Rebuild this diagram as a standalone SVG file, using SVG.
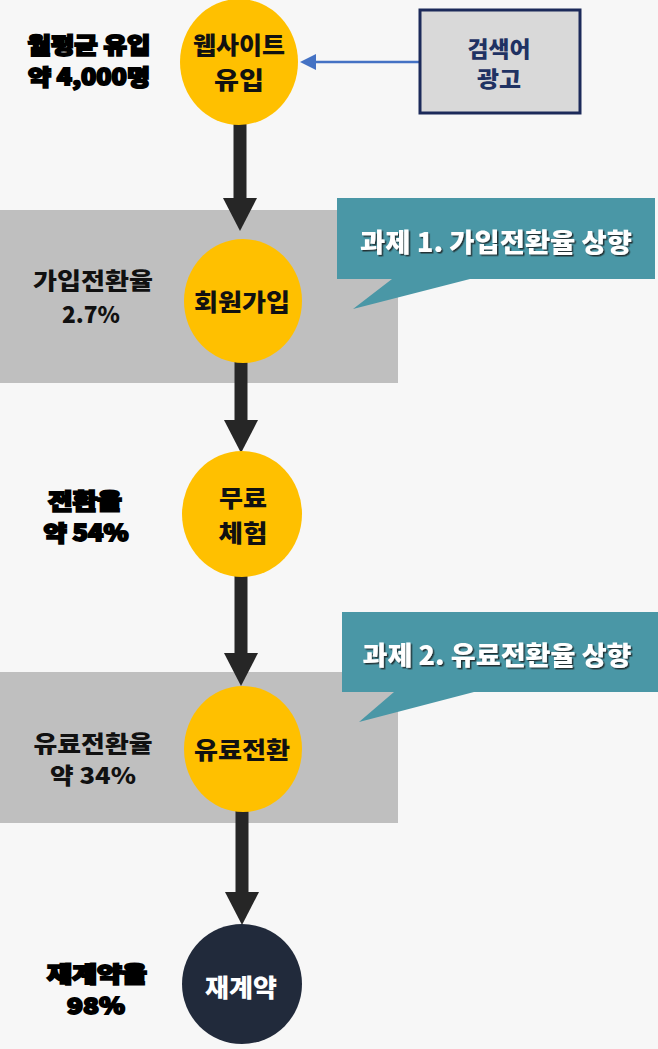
<svg xmlns="http://www.w3.org/2000/svg" width="658" height="1049" viewBox="0 0 658 1049">
<style>
text{font-family:"Noto Sans CJK KR","Noto Sans",sans-serif;font-weight:900;text-anchor:middle}
.node{fill:#ffc000}
.nt{font-size:24px;fill:#111}
.lab{font-size:23px;fill:#111}
.heavy{font-size:22px;fill:#000;stroke:#000;stroke-width:1.8px}
.band{fill:#bfbfbf}
.callout{fill:#4a97a6}
.ct{font-size:26px;fill:#fff}
.shaft{stroke:#262626;stroke-width:13;fill:none}
</style>
<defs>
<marker id="headBlack" markerUnits="userSpaceOnUse" viewBox="0 -17 33 34" markerWidth="33" markerHeight="34" refX="0" refY="0" orient="auto">
<path d="M0,-17 L33,0 L0,17 Z" fill="#262626"/>
</marker>
<marker id="headBlue" markerUnits="userSpaceOnUse" viewBox="0 -8 16 16" markerWidth="16" markerHeight="16" refX="0" refY="0" orient="auto">
<path d="M0,-8 L16,0 L0,8 Z" fill="#4472c4"/>
</marker>
<filter id="shadow" x="-10%" y="-30%" width="120%" height="160%">
<feDropShadow dx="1.5" dy="1.5" stdDeviation="0.6" flood-color="#1a1a1a" flood-opacity="0.8"/>
</filter>
</defs>
<rect width="658" height="1049" fill="#f7f7f7"/>
<g id="band1"><rect class="band" x="0" y="210" width="398" height="173"/></g>
<g id="band2"><rect class="band" x="0" y="672" width="398" height="151"/></g>
<g id="connectors">
<line class="shaft" x1="240" y1="120" x2="240" y2="198" marker-end="url(#headBlack)"/>
<line class="shaft" x1="241" y1="358" x2="241" y2="420" marker-end="url(#headBlack)"/>
<line class="shaft" x1="241" y1="572" x2="241" y2="653" marker-end="url(#headBlack)"/>
<line class="shaft" x1="242" y1="807" x2="242" y2="892" marker-end="url(#headBlack)"/>
<line x1="420" y1="62" x2="316" y2="62" stroke="#4472c4" stroke-width="2.5" marker-end="url(#headBlue)"/>
</g>
<g id="stat-inflow">
<text class="heavy" x="89" y="53" textLength="123" lengthAdjust="spacingAndGlyphs">월평균 유입</text>
<text class="heavy" x="89" y="85" textLength="122" lengthAdjust="spacingAndGlyphs">약 4,000명</text>
</g>
<g id="node-website">
<ellipse class="node" cx="239" cy="62" rx="59" ry="63"/>
<text class="nt" x="239" y="54" textLength="92" lengthAdjust="spacingAndGlyphs">웹사이트</text>
<text class="nt" x="239" y="89" textLength="50" lengthAdjust="spacingAndGlyphs">유입</text>
</g>
<g id="node-ad">
<rect x="420" y="10" width="160" height="103" fill="#d9d9d9" stroke="#1c2a5a" stroke-width="3"/>
<text x="499" y="57" font-size="22" fill="#1f3263" textLength="63" lengthAdjust="spacingAndGlyphs">검색어</text>
<text x="499" y="87" font-size="22" fill="#1f3263" textLength="44" lengthAdjust="spacingAndGlyphs">광고</text>
</g>
<g id="callout1">
<path class="callout" d="M337,198 H655 V279 H470 L353,309 L392,279 H337 Z"/>
<text class="ct" x="496" y="252" filter="url(#shadow)" textLength="272" lengthAdjust="spacingAndGlyphs">과제 1. 가입전환율 상향</text>
</g>
<g id="stat-signup">
<text class="lab" x="93" y="289" textLength="120" lengthAdjust="spacingAndGlyphs">가입전환율</text>
<text class="lab" x="91" y="323" textLength="58" lengthAdjust="spacingAndGlyphs">2.7%</text>
</g>
<g id="node-signup">
<ellipse class="node" cx="243" cy="301" rx="59" ry="62"/>
<text class="nt" x="242" y="311" textLength="96" lengthAdjust="spacingAndGlyphs">회원가입</text>
</g>
<g id="stat-trial">
<text class="heavy" x="85" y="509" textLength="74" lengthAdjust="spacingAndGlyphs">전환율</text>
<text class="heavy" x="86" y="541" textLength="85" lengthAdjust="spacingAndGlyphs">약 54%</text>
</g>
<g id="node-trial">
<ellipse class="node" cx="242" cy="514" rx="60" ry="63"/>
<text class="nt" x="243" y="507" textLength="48" lengthAdjust="spacingAndGlyphs">무료</text>
<text class="nt" x="243" y="542" textLength="49" lengthAdjust="spacingAndGlyphs">체험</text>
</g>
<g id="callout2">
<path class="callout" d="M342,612 H658 V692 H474 L359,722 L394,692 H342 Z"/>
<text class="ct" x="497" y="665" filter="url(#shadow)" textLength="269" lengthAdjust="spacingAndGlyphs">과제 2. 유료전환율 상향</text>
</g>
<g id="stat-paid">
<text class="lab" x="93" y="752" font-size="22" textLength="119" lengthAdjust="spacingAndGlyphs">유료전환율</text>
<text class="lab" x="93" y="784" font-size="22" textLength="86" lengthAdjust="spacingAndGlyphs">약 34%</text>
</g>
<g id="node-paid">
<ellipse class="node" cx="243" cy="749" rx="59" ry="63"/>
<text class="nt" x="242" y="759" textLength="96" lengthAdjust="spacingAndGlyphs">유료전환</text>
</g>
<g id="stat-renewal">
<text class="heavy" x="97" y="982" textLength="100" lengthAdjust="spacingAndGlyphs">재계약율</text>
<text class="heavy" x="96" y="1014" textLength="58" lengthAdjust="spacingAndGlyphs">98%</text>
</g>
<g id="node-renewal">
<circle cx="242" cy="984" r="60" fill="#212a3b"/>
<text x="241" y="997" font-size="25" fill="#fff" textLength="72" lengthAdjust="spacingAndGlyphs">재계약</text>
</g>
</svg>
